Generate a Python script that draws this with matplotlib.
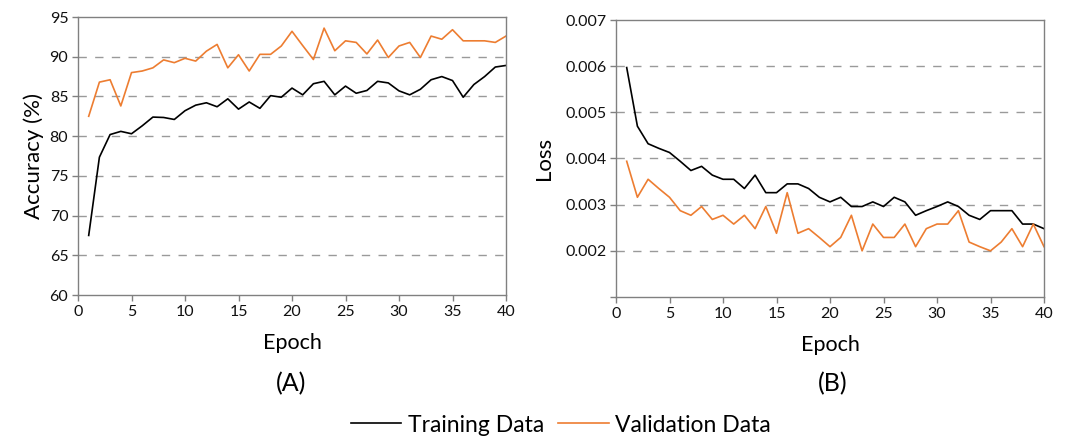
import matplotlib
matplotlib.use("Agg")
import matplotlib.pyplot as plt

plt.rcParams['font.family'] = ['Lato', 'DejaVu Sans']

epochs = list(range(1, 41))
train_acc = [67.5, 77.35, 80.2, 80.6, 80.3, 81.3, 82.4, 82.35, 82.1, 83.2,
             83.9, 84.2, 83.7, 84.7, 83.4, 84.3, 83.5, 85.1, 84.9, 86.05,
             85.2, 86.6, 86.9, 85.2, 86.3, 85.4, 85.75, 86.9, 86.7, 85.7,
             85.2, 85.9, 87.1, 87.5, 87.0, 84.9, 86.5, 87.5, 88.7, 88.9]
val_acc = [82.5, 86.8, 87.1, 83.8, 88.0, 88.2, 88.6, 89.6, 89.25, 89.8,
           89.45, 90.7, 91.55, 88.6, 90.25, 88.2, 90.3, 90.3, 91.35, 93.2,
           91.4, 89.65, 93.6, 90.75, 92.0, 91.8, 90.35, 92.1, 89.9, 91.35,
           91.8, 89.9, 92.6, 92.2, 93.4, 92.0, 92.0, 92.0, 91.8, 92.6]
train_loss = [0.00597, 0.00470, 0.00432, 0.00422, 0.00413, 0.00394, 0.00374, 0.00383, 0.00364, 0.00355,
              0.00355, 0.00335, 0.00364, 0.00326, 0.00326, 0.00345, 0.00345, 0.00335, 0.00316, 0.00306,
              0.00316, 0.00296, 0.00296, 0.00306, 0.00296, 0.00316, 0.00306, 0.00277, 0.00287, 0.00296,
              0.00306, 0.00296, 0.00277, 0.00268, 0.00287, 0.00287, 0.00287, 0.00258, 0.00258, 0.00248]
val_loss = [0.00394, 0.00316, 0.00355, 0.00335, 0.00316, 0.00287, 0.00277, 0.00296, 0.00268, 0.00277,
            0.00258, 0.00277, 0.00248, 0.00296, 0.00238, 0.00326, 0.00238, 0.00248, 0.00229, 0.00209,
            0.00229, 0.00277, 0.00200, 0.00258, 0.00229, 0.00229, 0.00258, 0.00209, 0.00248, 0.00258,
            0.00258, 0.00287, 0.00219, 0.00209, 0.00200, 0.00219, 0.00248, 0.00209, 0.00258, 0.00209]

acc_ticks = [60, 65, 70, 75, 80, 85, 90, 95]
loss_ticks = [0.001, 0.002, 0.003, 0.004, 0.005, 0.006, 0.007]
loss_labels = ['', '0.002', '0.003', '0.004', '0.005', '0.006', '0.007']
x_ticks = [0, 5, 10, 15, 20, 25, 30, 35, 40]

TRAIN_C = '#000000'
VAL_C = '#ED7D31'
SPINE_C = '#808080'
GRID_C = '#9a9a9a'

W, H = 1069, 440
fig = plt.figure(figsize=(W / 100, H / 100), dpi=100)
axA = fig.add_axes([78 / W, 1 - 295 / H, 428 / W, 278 / H])
axB = fig.add_axes([616 / W, 1 - 297 / H, 428 / W, 277 / H])


def style(ax, yticks, ylabels, gridvals):
    for s in ax.spines.values():
        s.set_color(SPINE_C)
        s.set_linewidth(1.0)
    ax.set_xlim(0, 40)
    ax.set_ylim(yticks[0], yticks[-1])
    ax.set_xticks(x_ticks)
    ax.set_yticks(yticks)
    ax.set_yticklabels(ylabels)
    ax.tick_params(direction='out', length=4, width=1, color=SPINE_C,
                   labelsize=11.5, labelcolor='#111111', pad=3)
    for g in gridvals:
        ax.axhline(g, color=GRID_C, lw=1.0, ls=(0, (6, 6)), zorder=0.5)
    ax.set_xlabel('Epoch', fontsize=15.5, labelpad=10)


axA.plot(epochs, train_acc, color=TRAIN_C, lw=1.2, label='Training Data')
axA.plot(epochs, val_acc, color=VAL_C, lw=1.2, label='Validation Data')
style(axA, acc_ticks, [str(t) for t in acc_ticks], acc_ticks[1:-1])
axA.set_ylabel('Accuracy (%)', fontsize=16, labelpad=4)

axB.plot(epochs, train_loss, color=TRAIN_C, lw=1.2)
axB.plot(epochs, val_loss, color=VAL_C, lw=1.2)
style(axB, loss_ticks, loss_labels, loss_ticks[1:-1])
axB.set_ylabel('Loss', fontsize=16, labelpad=8)

fig.text(291 / W, 1 - 384 / H, '(A)', fontsize=18, ha='center', va='center')
fig.text(833 / W, 1 - 384 / H, '(B)', fontsize=18, ha='center', va='center')

handles, labels = axA.get_legend_handles_labels()
fig.legend(handles, labels, loc='center', bbox_to_anchor=(561 / W, 1 - 425 / H),
           ncol=2, frameon=False, fontsize=16.5, handlelength=2.2,
           handletextpad=0.3, columnspacing=0.6)

fig.savefig('out.png', dpi=100)
